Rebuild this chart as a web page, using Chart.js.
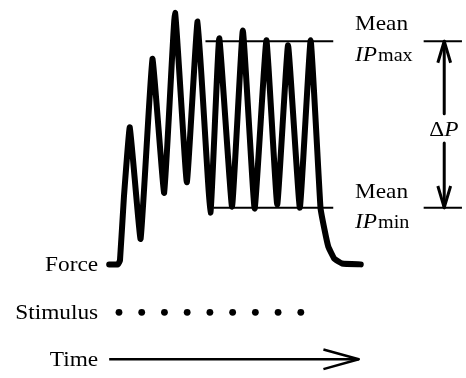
<!DOCTYPE html>
<html><head><meta charset="utf-8">
<script src="https://cdn.jsdelivr.net/npm/chart.js@4.4.1/dist/chart.umd.min.js"></script>
<style>html,body{margin:0;padding:0;background:#fff;}canvas{display:block;}</style>
</head><body>
<canvas id="c" width="466" height="378"></canvas>
<script>
// Time in stimulus intervals (stimulus 0 = first stimulus); force in % of mean IPmax
const stimulusTimes = [0, 1, 2, 3, 4, 5, 6, 7, 8];
const forceTime  = [-0.432,-0.043,0.043,0.216,0.476,0.951,1.470,1.989,2.465,2.984,3.459,4.022,4.411,4.973,5.449,5.968,6.486,6.962,7.438,7.957,8.432,8.865,9.038,9.211,9.470,9.816,10.638];
const forceValue = [0,0,1.75,30.0,61.4,11.4,92.1,32.0,112.7,36.8,108.8,23.2,101.3,25.9,104.8,25.0,100.4,26.8,98.2,25.4,100.4,25.4,15.8,7.9,2.6,0.4,0];
const meanIPmax = 100;
const meanIPmin = 25.4;
const meanWindow = [3.805, 9.427];
const meanWindowMin = [4.151, 9.427];
const deltaPTime = 14.31;
const sideLine = [13.405, 15.09];
const stimulusRow = -21.5;
const timeRow = -42.5;
const timeAxis = [-0.432, 10.55];
const labels = { force: 'Force', stimulus: 'Stimulus', time: 'Time', mean: 'Mean', ip: 'IP', max: 'max', min: 'min', delta: 'Δ', p: 'P' };

const xy = (xs, ys) => xs.map((x, i) => ({x, y: ys[i]}));
const blk = '#000';
const lineDs = (data, w) => ({data, showLine: true, borderColor: blk, borderWidth: w, pointRadius: 0, tension: 0, fill: false, borderJoinStyle: 'round', borderCapStyle: 'butt', clip: false});

const ahDx = 0.281, topArm = 90.35, botArm = 35.1, gapTop = 67.5, gapBot = 54.4;
const datasets = [
  Object.assign(lineDs(xy(forceTime, forceValue), 6), {borderCapStyle: 'round', tension: 0.1}),
  lineDs([{x: meanWindow[0], y: meanIPmax}, {x: meanWindow[1], y: meanIPmax}], 2),
  lineDs([{x: meanWindowMin[0], y: meanIPmin}, {x: meanWindowMin[1], y: meanIPmin}], 2),
  lineDs([{x: sideLine[0], y: meanIPmax}, {x: sideLine[1], y: meanIPmax}], 2),
  lineDs([{x: sideLine[0], y: meanIPmin}, {x: sideLine[1], y: meanIPmin}], 2),
  lineDs([{x: deltaPTime, y: meanIPmax}, {x: deltaPTime, y: gapTop}], 3),
  lineDs([{x: deltaPTime, y: gapBot}, {x: deltaPTime, y: meanIPmin}], 3),
  lineDs([{x: deltaPTime - ahDx, y: topArm}, {x: deltaPTime, y: meanIPmax}, {x: deltaPTime + ahDx, y: topArm}], 3),
  lineDs([{x: deltaPTime - ahDx, y: botArm}, {x: deltaPTime, y: meanIPmin}, {x: deltaPTime + ahDx, y: botArm}], 3),
  lineDs([{x: timeAxis[0], y: timeRow}, {x: timeAxis[1], y: timeRow}], 2.5),
  lineDs([{x: 8.995, y: -38.16}, {x: timeAxis[1], y: timeRow}, {x: 8.995, y: -46.93}], 2.5),
  {data: stimulusTimes.map(t => ({x: t, y: stimulusRow})), showLine: false, pointRadius: 3.4, pointBackgroundColor: blk, pointBorderWidth: 0, clip: false}
];

const textPlugin = {
  id: 'texts',
  afterDraw(chart) {
    const ctx = chart.ctx, xs = chart.scales.x, ys = chart.scales.y;
    const SX = 1.06;
    const fam = '"Liberation Serif", "Times New Roman", serif';
    function txt(s, x, y, size, align, italic) {
      ctx.save();
      ctx.font = (italic ? 'italic ' : '') + size + 'px ' + fam;
      ctx.fillStyle = '#000';
      ctx.textBaseline = 'alphabetic';
      const w = ctx.measureText(s).width * SX;
      const x0 = align === 'right' ? x - w : x;
      ctx.translate(x0, y);
      ctx.scale(SX, 1);
      ctx.fillText(s, 0, 0);
      ctx.restore();
      return x0 + w;
    }
    const leftX = xs.getPixelForValue(timeAxis[0]) - 11;
    txt(labels.force, leftX, ys.getPixelForValue(0) + 7, 22, 'right');
    txt(labels.stimulus, leftX, ys.getPixelForValue(stimulusRow) + 7, 22, 'right');
    txt(labels.time, leftX, ys.getPixelForValue(timeRow) + 7, 22, 'right');
    const lx = 355;
    const yMax = ys.getPixelForValue(meanIPmax), yMin = ys.getPixelForValue(meanIPmin);
    txt(labels.mean, lx, yMax - 11, 22, 'left');
    let e = txt(labels.ip, lx, yMax + 20, 22, 'left', true);
    txt(labels.max, e + 1, yMax + 20, 19, 'left');
    txt(labels.mean, lx, yMin - 10, 22, 'left');
    e = txt(labels.ip, lx, yMin + 20, 22, 'left', true);
    txt(labels.min, e + 1, yMin + 20, 19, 'left');
    const dx = xs.getPixelForValue(deltaPTime);
    const dy = (ys.getPixelForValue(gapTop) + ys.getPixelForValue(gapBot)) / 2 + 8;
    e = txt(labels.delta, dx - 15, dy, 22, 'left');
    txt(labels.p, e, dy, 22, 'left', true);
  }
};

new Chart(document.getElementById('c'), {
  type: 'scatter',
  data: {datasets},
  options: {
    responsive: false, animation: false,
    layout: {padding: 0},
    plugins: {legend: {display: false}, tooltip: {enabled: false}},
    scales: {
      x: {type: 'linear', display: false, min: -5.0595, max: 15.0919},
      y: {type: 'linear', display: false, min: -49.12, max: 116.667}
    }
  },
  plugins: [textPlugin]
});
</script>
</body></html>
